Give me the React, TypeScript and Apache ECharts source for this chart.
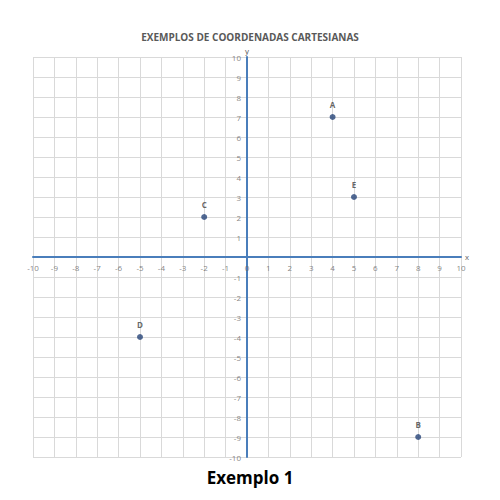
import { useEffect, useRef } from 'react';
import * as echarts from 'echarts';

const pointNames = ['A', 'B', 'C', 'D', 'E'];
const pointX = [4, 8, -2, -5, 5];
const pointY = [7, -9, 2, -4, 3];
const tickValues = [-10, -9, -8, -7, -6, -5, -4, -3, -2, -1, 0, 1, 2, 3, 4, 5, 6, 7, 8, 9, 10];
const title = 'EXEMPLOS DE COORDENADAS CARTESIANAS';
const caption = 'Exemplo 1';

const App = () => {
  const chartRef = useRef<HTMLDivElement>(null);

  useEffect(() => {
    if (!chartRef.current) return;
    const chart = echarts.init(chartRef.current, null, { renderer: 'svg' });

    const axisCommon = {
      type: 'value' as const,
      min: -10,
      max: 10,
      interval: 1,
      axisLine: { onZero: true, lineStyle: { color: '#4a7ebb', width: 2 } },
      axisTick: { show: false },
      axisLabel: { show: false },
      splitLine: { show: true, lineStyle: { color: '#d9d9d9', width: 1 } },
      nameTextStyle: { color: '#666', fontSize: 8 }
    };

    const tickLabel = {
      show: true,
      formatter: (p: any) => String(p.data.t),
      color: '#666',
      fontSize: 8,
      fontFamily: 'Open Sans'
    };

    const option: echarts.EChartsOption = {
      animation: false,
      title: [
        {
          text: title,
          left: 'center',
          top: 19,
          textStyle: { color: '#595959', fontSize: 10, fontWeight: 'bold', fontFamily: 'Open Sans' }
        },
        {
          text: caption,
          left: 'center',
          top: 456,
          textStyle: { color: '#000', fontSize: 17, fontWeight: 'bold', fontFamily: 'Open Sans' }
        }
      ],
      grid: { left: 25, right: 31, top: 49, bottom: 35 },
      xAxis: { ...axisCommon, name: 'x', nameGap: 4 },
      yAxis: { ...axisCommon, name: 'y', nameGap: 2 },
      series: [
        {
          type: 'scatter',
          silent: true,
          symbolSize: 0,
          data: tickValues.map(t => ({ value: [t, 0], t })),
          label: { ...tickLabel, position: 'bottom', distance: 6 }
        },
        {
          type: 'scatter',
          silent: true,
          symbolSize: 0,
          data: tickValues.filter(t => t !== 0).map(t => ({ value: [0, t], t })),
          label: { ...tickLabel, position: 'left', distance: 6 }
        },
        {
          type: 'scatter',
          data: pointX.map((x, i) => ({ value: [x, pointY[i]], name: pointNames[i] })),
          symbolSize: 6,
          itemStyle: { color: '#264478' },
          label: {
            show: true,
            position: 'top',
            distance: 6,
            formatter: '{b}',
            color: '#404040',
            fontSize: 8,
            fontWeight: 'bold',
            fontFamily: 'Open Sans'
          }
        }
      ]
    };

    chart.setOption(option);
    return () => chart.dispose();
  }, []);

  return <div ref={chartRef} style={{ width: 484, height: 484 }} />;
};

export default App;
